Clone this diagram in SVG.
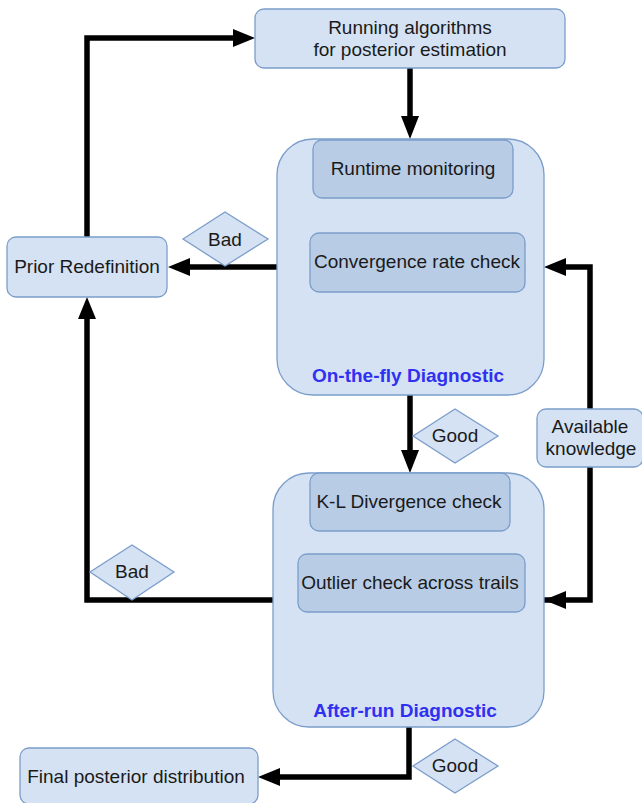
<svg xmlns="http://www.w3.org/2000/svg" width="642" height="803" viewBox="0 0 642 803">
<defs>
<style>
.box{fill:#d5e2f3;stroke:#7b9dca;stroke-width:1.3}
.inner{fill:#b8cce5;stroke:#7b9dca;stroke-width:1.3}
.dia{fill:#d5e2f3;stroke:#7b9dca;stroke-width:1.3}
.t{font-family:"Liberation Sans",Arial,sans-serif;font-size:19px;fill:#1a1a1a;text-anchor:middle}
.ti{font-family:"Liberation Sans",Arial,sans-serif;font-size:19px;font-weight:bold;fill:#3030f0;text-anchor:middle}
.c{fill:none;stroke:#000;stroke-width:5.5;stroke-linejoin:miter}
</style>
</defs>
<g id="connectors">
<path class="c" d="M410,68 L410,116" />
<path d="M401,116 L419,116 L410,139 Z" fill="#000"/>
<path class="c" d="M277,267 L190,267" />
<path d="M190,258 L190,276 L168,267 Z" fill="#000"/>
<path class="c" d="M87,237 L87,38 L233,38" />
<path d="M233,29 L233,47 L255,38 Z" fill="#000"/>
<path class="c" d="M273,600 L87,600 L87,319" />
<path d="M78,319 L96,319 L87,297 Z" fill="#000"/>
<path class="c" d="M410,395 L410,450" />
<path d="M401,450 L419,450 L410,473 Z" fill="#000"/>
<path class="c" d="M544,600 L590,600 L590,267 L566,267" />
<path d="M566,258 L566,276 L544,267 Z" fill="#000"/>
<path d="M566,591 L566,609 L544,600 Z" fill="#000"/>
<path class="c" d="M409,727 L409,777 L280,777" />
<path d="M280,768 L280,786 L258,777 Z" fill="#000"/>
</g>
<g id="running">
<rect class="box" x="255" y="9" width="310" height="59" rx="9"/>
<text class="t" x="410" y="34">Running algorithms</text>
<text class="t" x="410" y="56">for posterior estimation</text>
</g>
<g id="onthefly">
<rect class="box" x="277" y="139" width="267" height="256" rx="36"/>
<text class="ti" x="408" y="382">On-the-fly Diagnostic</text>
</g>
<g id="runtime">
<rect class="inner" x="313" y="140" width="200" height="58" rx="9"/>
<text class="t" x="413" y="175">Runtime monitoring</text>
</g>
<g id="convergence">
<rect class="inner" x="310" y="233" width="215" height="59" rx="9"/>
<text class="t" x="417" y="268">Convergence rate check</text>
</g>
<g id="prior">
<rect class="box" x="7" y="237" width="160" height="60" rx="9"/>
<text class="t" x="87" y="273">Prior Redefinition</text>
</g>
<g id="bad1">
<path class="dia" d="M183,239 L225,212 L268,239 L225,266 Z"/>
<text class="t" x="225" y="246">Bad</text>
</g>
<g id="good1">
<path class="dia" d="M413,436 L455,409 L498,436 L455,463 Z"/>
<text class="t" x="455" y="442">Good</text>
</g>
<g id="knowledge">
<rect class="box" x="537" y="409" width="106" height="58" rx="9"/>
<text class="t" x="590" y="433">Available</text>
<text class="t" x="591" y="455">knowledge</text>
</g>
<g id="afterrun">
<rect class="box" x="273" y="473" width="271" height="254" rx="36"/>
<text class="ti" x="405" y="717">After-run Diagnostic</text>
</g>
<g id="kl">
<rect class="inner" x="310" y="473" width="200" height="58" rx="9"/>
<text class="t" x="409" y="508">K-L Divergence check</text>
</g>
<g id="outlier">
<rect class="inner" x="298" y="554" width="227" height="58" rx="9"/>
<text class="t" x="410" y="589">Outlier check across trails</text>
</g>
<g id="bad2">
<path class="dia" d="M90,572 L132,545 L174,572 L132,600 Z"/>
<text class="t" x="132" y="578">Bad</text>
</g>
<g id="final">
<rect class="box" x="20" y="748" width="238" height="56" rx="9"/>
<text class="t" x="136" y="783">Final posterior distribution</text>
</g>
<g id="good2">
<path class="dia" d="M413,766 L455,739 L498,766 L455,793 Z"/>
<text class="t" x="455" y="772">Good</text>
</g>
</svg>
